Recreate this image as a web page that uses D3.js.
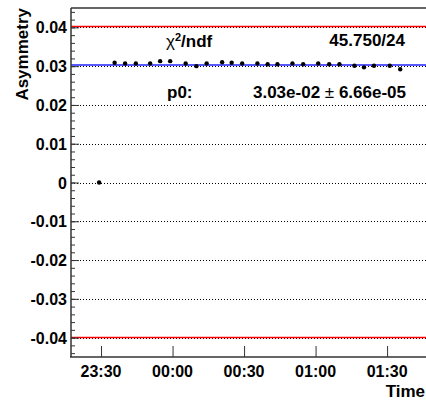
<!DOCTYPE html>
<html>
<head>
<meta charset="UTF-8">
<style>
  body { margin: 0; background: #fff; }
  svg { display: block; font-family: "Liberation Sans", Arial, sans-serif; font-weight: bold; }
</style>
</head>
<body>
<div id="chart"></div>
<script src="https://d3js.org/d3.v7.min.js"></script>
<script>
// measured points (clock time, asymmetry)
const times = ["23:29:12", "23:35:42", "23:40:06", "23:44:36", "23:50:36", "23:54:48", "23:59:00",
    "00:05:30", "00:10:00", "00:14:18", "00:20:48", "00:24:48", "00:29:12", "00:35:36", "00:39:54",
    "00:44:00", "00:50:18", "00:54:48", "01:01:06", "01:05:42", "01:10:00", "01:16:18", "01:20:18",
    "01:24:30", "01:31:06", "01:35:30"];
const asym = [0, 0.0309, 0.0307, 0.0307, 0.0307, 0.0313, 0.0313,
    0.0307, 0.0300, 0.0307, 0.0310, 0.0309, 0.0307, 0.0307, 0.0305,
    0.0305, 0.0307, 0.0305, 0.0307, 0.0305, 0.0305, 0.0301, 0.0297,
    0.0301, 0.0301, 0.0292];

const yTicks = [-0.04, -0.03, -0.02, -0.01, 0, 0.01, 0.02, 0.03, 0.04];
const xTickLabels = ["23:30", "00:00", "00:30", "01:00", "01:30"];
const limitLines = [0.04, -0.04];
const fitP0 = 0.0303;
const statChi2 = "45.750/24";
const statP0 = "3.03e-02";
const statP0Err = "6.66e-05";

const width = 426, height = 400;
const plotL = 71, plotT = 8, plotR = 430, plotB = 357;

// times before noon belong to the next day
function toDate(s) {
    const p = s.split(":").map(Number);
    const day = p[0] < 12 ? 2 : 1;
    return new Date(2000, 0, day, p[0], p[1], p[2] || 0);
}

const data = times.map((t, i) => ({ t: toDate(t), v: asym[i] }));

const x = d3.scaleTime()
    .domain([toDate("23:17:24"), toDate("01:48:00")])
    .range([plotL, plotR]);

const y = d3.scaleLinear()
    .domain([-0.045, 0.045])
    .range([plotB, plotT]);

const svg = d3.select("#chart").append("svg")
    .attr("width", width)
    .attr("height", height);

// dotted grid
svg.append("g")
    .selectAll("line")
    .data(yTicks)
    .enter()
    .append("line")
    .attr("x1", plotL).attr("x2", plotR)
    .attr("y1", d => Math.round(y(d)) + 0.5)
    .attr("y2", d => Math.round(y(d)) + 0.5)
    .attr("stroke", "#000")
    .attr("stroke-width", 1)
    .attr("stroke-dasharray", "1,2");

// limit lines
svg.append("g")
    .selectAll("line")
    .data(limitLines)
    .enter()
    .append("line")
    .attr("x1", plotL).attr("x2", plotR)
    .attr("y1", d => Math.round(y(d)) - 0.5)
    .attr("y2", d => Math.round(y(d)) - 0.5)
    .attr("stroke", "#ff0000")
    .attr("stroke-width", 1.3);

// fit line
svg.append("line")
    .attr("x1", plotL).attr("x2", plotR)
    .attr("y1", y(fitP0)).attr("y2", y(fitP0))
    .attr("stroke", "#2020ff")
    .attr("stroke-width", 1.5);

// points
svg.append("g")
    .selectAll("circle")
    .data(data)
    .enter()
    .append("circle")
    .attr("cx", d => x(d.t))
    .attr("cy", d => y(d.v))
    .attr("r", 2.2)
    .attr("fill", "#000");

// frame top
svg.append("line")
    .attr("x1", plotL).attr("x2", plotR)
    .attr("y1", plotT).attr("y2", plotT)
    .attr("stroke", "#666")
    .attr("stroke-width", 2);

// y axis
const minor = d3.range(-0.044, 0.0441, 0.002);
svg.append("g")
    .attr("transform", `translate(${plotL},0)`)
    .call(d3.axisRight(y).tickValues(minor).tickSize(4).tickFormat(""))
    .call(g => g.select(".domain").remove())
    .selectAll("line").attr("stroke", "#333");

const yAxis = svg.append("g")
    .attr("transform", `translate(${plotL},0)`)
    .call(d3.axisRight(y).tickValues(yTicks).tickSize(8).tickFormat(""));
yAxis.select(".domain").remove();
yAxis.selectAll("line").attr("stroke", "#333");

svg.append("g")
    .selectAll("text")
    .data(yTicks)
    .enter()
    .append("text")
    .attr("x", plotL - 4)
    .attr("y", d => y(d) + 6)
    .attr("text-anchor", "end")
    .style("font-size", "16px")
    .text(d => String(d));

svg.append("line")
    .attr("x1", plotL).attr("x2", plotL)
    .attr("y1", plotT).attr("y2", plotB)
    .attr("stroke", "#333")
    .attr("stroke-width", 1.5);

// x axis
const xTicks = xTickLabels.map(toDate);
const xAxis = svg.append("g")
    .attr("transform", `translate(0,${plotB})`)
    .call(d3.axisTop(x).tickValues(xTicks).tickSize(11).tickFormat(""));
xAxis.select(".domain").remove();
xAxis.selectAll("line").attr("stroke", "#333");

svg.append("g")
    .selectAll("text")
    .data(xTicks)
    .enter()
    .append("text")
    .attr("x", d => x(d))
    .attr("y", 377)
    .attr("text-anchor", "middle")
    .style("font-size", "16px")
    .text((d, i) => xTickLabels[i]);

svg.append("line")
    .attr("x1", plotL - 1).attr("x2", plotR)
    .attr("y1", plotB).attr("y2", plotB)
    .attr("stroke", "#333")
    .attr("stroke-width", 1.5);

// axis titles
svg.append("text")
    .attr("x", 425)
    .attr("y", 397)
    .attr("text-anchor", "end")
    .style("font-size", "17px")
    .text("Time");

svg.append("text")
    .attr("transform", `translate(28,${plotT}) rotate(-90)`)
    .attr("text-anchor", "end")
    .style("font-size", "17px")
    .text("Asymmetry");

// fit statistics
const chi = svg.append("text")
    .attr("x", 166)
    .attr("y", 47)
    .style("font-size", "17px");
chi.append("tspan").style("font-weight", "normal").text("χ");
chi.append("tspan").attr("dy", -6).style("font-size", "11px").text("2");
chi.append("tspan").attr("dy", 6).text("/ndf");

svg.append("text")
    .attr("x", 405)
    .attr("y", 46)
    .attr("text-anchor", "end")
    .style("font-size", "17px")
    .text(statChi2);

svg.append("text")
    .attr("x", 167)
    .attr("y", 98)
    .style("font-size", "17px")
    .text("p0:");

const pv = svg.append("text")
    .attr("x", 406)
    .attr("y", 98)
    .attr("text-anchor", "end")
    .style("font-size", "17px");
pv.append("tspan").text(statP0 + " ");
pv.append("tspan").style("font-weight", "normal").text("±");
pv.append("tspan").text(" " + statP0Err);
</script>
</body>
</html>
